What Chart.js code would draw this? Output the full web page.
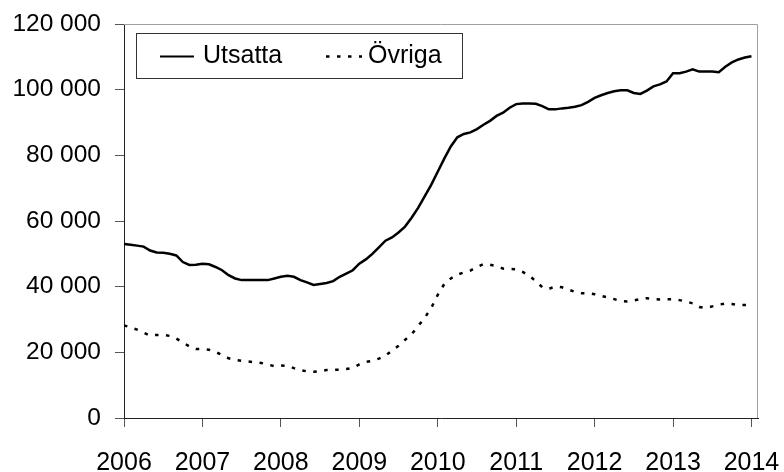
<!DOCTYPE html>
<html>
<head>
<meta charset="utf-8">
<script src="https://cdn.jsdelivr.net/npm/chart.js@4/dist/chart.umd.min.js"></script>
<style>
  html, body { margin: 0; padding: 0; background: #fff; }
  #wrap { width: 784px; height: 472px; }
</style>
</head>
<body>
<div id="wrap"><canvas id="c" width="784" height="472"></canvas></div>
<script>
// Monthly data, January 2006 to January 2014
const startYear = 2006;
const yearTicks = [2006, 2007, 2008, 2009, 2010, 2011, 2012, 2013, 2014];
const seriesNames = ["Utsatta", "Övriga"];

const utsatta = [
  53000, 52800, 52500, 52200, 51000, 50400, 50300, 50000, 49500, 47500, 46600, 46700,
  47000, 46800, 46000, 45000, 43500, 42500, 42000, 42000, 42000, 42000, 42000, 42500,
  43000, 43300, 43000, 42000, 41300, 40500, 40800, 41100, 41700, 43000, 44000, 45000,
  47000, 48300, 50000, 52000, 54000, 55000, 56500, 58300, 61000, 64000, 67500, 71000,
  75000, 79000, 82700, 85500, 86500, 87000, 88000, 89300, 90500, 92000, 93000, 94500,
  95600, 95800, 95800, 95700, 95000, 94000, 94000, 94300, 94500, 94800, 95300, 96300,
  97500, 98300, 99000, 99500, 99800, 99800, 99000, 98700, 99700, 101000, 101600, 102500,
  105000, 105000, 105500, 106200, 105500, 105500, 105500, 105300, 107000, 108300, 109200, 109800,
  110200
];

const ovriga = [
  28200, 27600, 26900, 26000, 25100, 25300, 25300, 25000, 24200, 23000, 21800, 21000,
  21000, 20800, 20100, 19200, 18200, 17700, 17400, 17200, 17000, 16750, 16300, 15800,
  16000, 15900, 15200, 14600, 14200, 14100, 14300, 14600, 14700, 14700, 14900, 15300,
  16300, 17100, 17400, 18100, 19000, 20500, 22000, 23800, 25500, 28000, 30500, 33500,
  37500, 40800, 42500, 43700, 44300, 44900, 46000, 46900, 46700, 46200, 45500, 45400,
  45300, 44500, 43300, 41700, 39800, 39300, 40100, 39800, 39100, 38400, 38000, 38000,
  37700, 37200, 36700, 36200, 35600, 35500, 35800, 36200, 36500, 36300, 36100, 36200,
  36200, 35900, 35500, 34900, 33800, 33500, 34000, 34500, 34900, 34700, 34400, 34400,
  34400
];

const yTickValues = [0, 20000, 40000, 60000, 80000, 100000, 120000];

const toPoints = arr => arr.map((v, i) => ({ x: i, y: v }));
const fmt = v => String(Math.round(v)).replace(/\B(?=(\d{3})+(?!\d))/g, " ");
const FONT = "'Liberation Sans', Arial, sans-serif";

function zeroPad(scale) {
  scale.paddingTop = 0;
  scale.paddingBottom = 0;
  scale.paddingLeft = 0;
  scale.paddingRight = 0;
}

const frameAndLegend = {
  id: 'frameAndLegend',
  afterDraw(chart) {
    const ctx = chart.ctx;
    const a = chart.chartArea;
    ctx.save();
    // top and right frame
    ctx.strokeStyle = '#a0a0a0';
    ctx.lineWidth = 1;
    ctx.beginPath();
    ctx.moveTo(a.left, a.top + 0.5);
    ctx.lineTo(a.right - 0.5, a.top + 0.5);
    ctx.lineTo(a.right - 0.5, a.bottom);
    ctx.stroke();

    // legend box
    const lx = a.left + 12, ly = a.top + 9, lw = 326, lh = 45;
    ctx.fillStyle = '#fff';
    ctx.fillRect(lx, ly, lw, lh);
    ctx.strokeStyle = '#333';
    ctx.lineWidth = 1;
    ctx.strokeRect(lx + 0.5, ly + 0.5, lw, lh);
    const cy = ly + lh / 2 + 1;
    const ds = chart.data.datasets;
    // sample 1
    ctx.strokeStyle = '#000';
    ctx.lineWidth = 2;
    ctx.setLineDash([]);
    ctx.beginPath();
    ctx.moveTo(lx + 24, cy);
    ctx.lineTo(lx + 58, cy);
    ctx.stroke();
    // sample 2
    ctx.lineWidth = 2.5;
    ctx.setLineDash([3.5, 7.5]);
    ctx.beginPath();
    ctx.moveTo(lx + 190, cy);
    ctx.lineTo(lx + 226, cy);
    ctx.stroke();
    ctx.setLineDash([]);
    ctx.fillStyle = '#000';
    ctx.font = "25px " + FONT;
    ctx.textBaseline = 'middle';
    ctx.textAlign = 'left';
    ctx.fillText(ds[0].label, lx + 67, cy);
    ctx.fillText(ds[1].label, lx + 232, cy);
    ctx.restore();
  }
};

new Chart(document.getElementById('c'), {
  type: 'line',
  data: {
    datasets: [
      {
        label: seriesNames[0],
        data: toPoints(utsatta),
        borderColor: '#000',
        borderWidth: 2.5,
        pointRadius: 0,
        tension: 0,
        fill: false
      },
      {
        label: seriesNames[1],
        data: toPoints(ovriga),
        borderColor: '#000',
        borderWidth: 2.5,
        borderDash: [3.5, 7.5],
        borderCapStyle: 'butt',
        pointRadius: 0,
        tension: 0,
        fill: false
      }
    ]
  },
  options: {
    responsive: false,
    animation: false,
    devicePixelRatio: 1,
    layout: { padding: { top: 24, right: 26, left: 0, bottom: 0 } },
    plugins: {
      legend: { display: false },
      tooltip: { enabled: false }
    },
    scales: {
      x: {
        type: 'linear',
        min: 0,
        max: 97,
        afterBuildTicks(scale) {
          scale.ticks = yearTicks.map(y => ({ value: (y - startYear) * 12 }));
        },
        afterFit(scale) { scale.height = 54; zeroPad(scale); },
        grid: {
          display: true,
          drawOnChartArea: false,
          drawTicks: true,
          tickLength: 9,
          color: '#555',
          lineWidth: 1
        },
        border: { display: true, color: '#222', width: 1 },
        ticks: {
          autoSkip: false,
          maxRotation: 0,
          padding: 21,
          color: '#000',
          font: { family: FONT, size: 25 },
          callback: v => String(startYear + v / 12)
        }
      },
      y: {
        min: 0,
        max: 120000,
        afterBuildTicks(scale) {
          scale.ticks = yTickValues.map(v => ({ value: v }));
        },
        afterFit(scale) { scale.width = 124; zeroPad(scale); },
        grid: {
          display: true,
          drawOnChartArea: false,
          drawTicks: true,
          tickLength: 9,
          color: '#555',
          lineWidth: 1
        },
        border: { display: true, color: '#222', width: 1 },
        ticks: {
          padding: 14,
          color: '#000',
          font: { family: FONT, size: 24.5 },
          callback: v => fmt(v)
        }
      }
    }
  },
  plugins: [frameAndLegend]
});
</script>
</body>
</html>
